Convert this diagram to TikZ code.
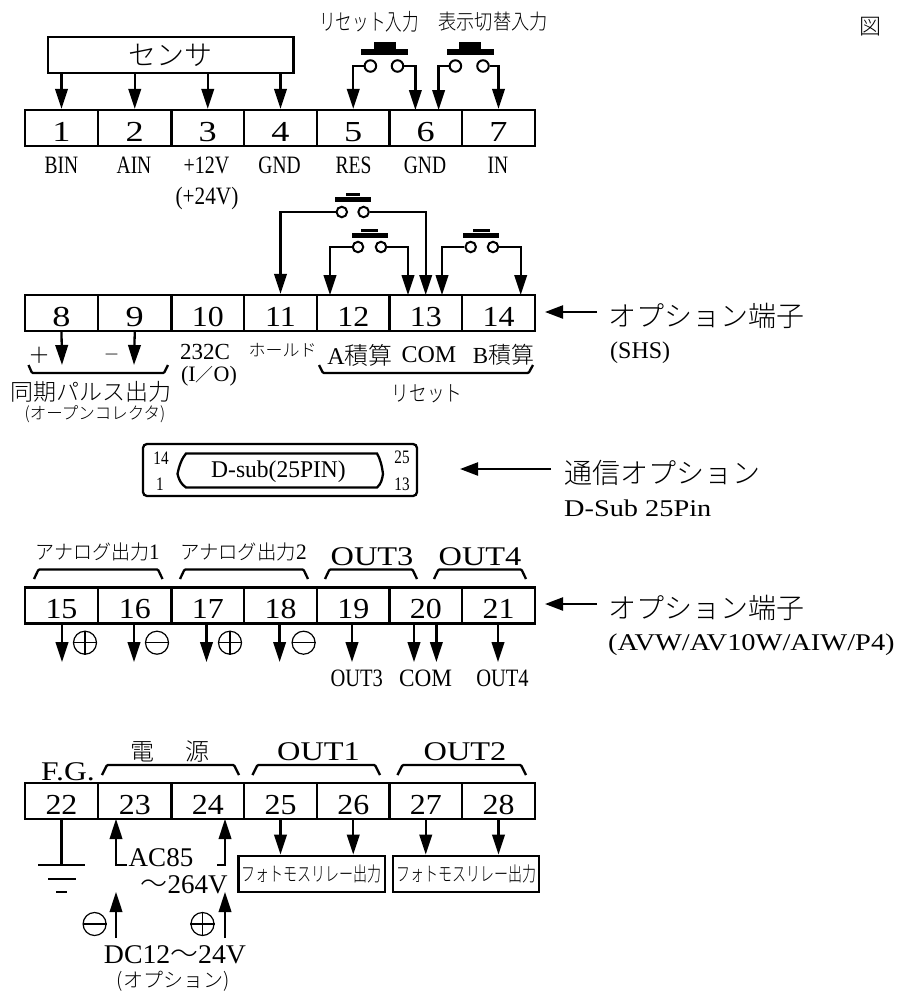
\documentclass[tikz,border=0pt]{standalone}
\usepackage{fontspec}
\usepackage{graphicx}
\usetikzlibrary{arrows.meta}
\setmainfont{Liberation Serif}
\newfontfamily\jpl{Noto Sans CJK JP Light}
\newcommand{\fs}[1]{\fontsize{#1}{#1}\selectfont}
\newcommand{\sx}[2]{\scalebox{#1}[1]{#2}}
\tikzset{
  x=1pt,y=-1pt,
  wire/.style={line width=2.3pt},
  arr/.style={line width=2.3pt,-{Triangle[length=20pt,width=12.5pt]}},
  arrs/.style={line width=2.3pt,-{Triangle[length=18pt,width=13pt]}},
  cell/.style={draw,line width=2.3pt,inner sep=0pt,font=\fs{29}},
  txt/.style={inner sep=0pt},
  bus/.style={line width=2.3pt,rounded corners=1pt},
  contact/.style={circle,draw,line width=2pt,fill=white,inner sep=0pt,minimum size=#1},
  oplus/.style={circle,draw,line width=1.2pt,inner sep=0pt,minimum size=23pt},
}
\begin{document}
\begin{tikzpicture}
\useasboundingbox (0,0) rectangle (905,994);
% terminal blocks
\def\xs{{25,98,171.5,244,317,389.5,462,535}}
\foreach \yc/\first in {128/1,313/8,605.5/15,801/22}{
  \foreach \i in {0,...,6}{
    \pgfmathsetmacro{\xa}{\xs[\i]}
    \pgfmathsetmacro{\xb}{\xs[\i+1]}
    \pgfmathtruncatemacro{\nn}{\first+\i}
    \node[cell,minimum width=\xb pt-\xa pt,minimum height=36pt,anchor=center] (t\nn) at ({(\xa+\xb)/2},\yc) {\raisebox{-13pt}[0pt][0pt]{\sx{\ifnum\nn<10 1.25\else 1.1\fi}{\nn}}};
  }
}
% sensor
\node[draw,line width=2.3pt,minimum width=245.6pt,minimum height=36pt,inner sep=0pt] (sensor) at (170.8,55) {\jpl\fs{28}\raisebox{-1pt}{センサ}};
\foreach \n in {1,2,3,4}{\draw[arr] (sensor.south -| t\n.north) -- (t\n.north);}
% switches
\newcommand{\pushbtn}[6]{%
  \node[fill,minimum width=2*#4 pt,minimum height=5.5pt,inner sep=0pt] (#1bar) at (#2,#3) {};
  \node[fill,minimum width=2*#5 pt,minimum height=#6 pt,inner sep=0pt,anchor=south] (#1btn) at (#1bar.north) {};
}
\pushbtn{a}{384.5}{52}{23.5}{11}{7}
\pushbtn{b}{470}{52}{23.5}{11}{7}
\pushbtn{c}{352.7}{199.5}{18}{7}{3.5}
\pushbtn{d}{369.6}{235.5}{18}{8.5}{3.5}
\pushbtn{e}{481}{235.5}{18}{8.5}{3.5}
\node[contact=11.5pt] (a1) at (370.4,66) {};
\node[contact=11.5pt] (a2) at (397.5,66) {};
\node[contact=11.5pt] (b1) at (455.4,66) {};
\node[contact=11.5pt] (b2) at (483,66) {};
\node[contact=10.5pt] (c1) at (341.8,212) {};
\node[contact=10.5pt] (c2) at (363.6,212) {};
\node[contact=10.5pt] (d1) at (358,247) {};
\node[contact=10.5pt] (d2) at (381,247) {};
\node[contact=10.5pt] (e1) at (470.7,247) {};
\node[contact=10.5pt] (e2) at (493,247) {};
\coordinate (p6a) at (415.4,110);
\coordinate (p6b) at (438.6,110);
\coordinate (p12) at (330,295);
\coordinate (p13a) at (408,295);
\coordinate (p13b) at (425.7,295);
\coordinate (p13c) at (442,295);
\coordinate (p14) at (520.7,295);
\draw[arr] (a1) -| (t5.north);
\draw[arr] (a2) -| (p6a);
\draw[arr] (b1) -| (p6b);
\draw[arr] (b2) -| (t7.north);
\draw[arr] (c1) -| (t11.north);
\draw[arr] (c2) -| (p13b);
\draw[arr] (d1) -| (p12);
\draw[arr] (d2) -| (p13a);
\draw[arr] (e1) -| (p13c);
\draw[arr] (e2) -| (p14);
% row 1 labels
\foreach \n/\t/\x/\s in {1/BIN/61.5/.78,2/AIN/134/.78,3/+12V/206.5/.8,4/GND/279.6/.78,5/RES/353.6/.78,6/GND/425/.78,7/IN/498/.78}{
  \node[txt] (l\n) at (\x,165) {\fs{25}\sx{\s}{\t}};
}
\node[txt] (l3b) at (207,198) {\fs{25}\sx{.85}{(+24V)}};
\node[txt] (hreset) at (369,22) {\jpl\fs{23}\sx{.72}{リセット入力}};
\node[txt] (hdisp) at (493,22) {\jpl\fs{21}\sx{.87}{表示切替入力}};
\node[txt] (fig) at (870,27) {\jpl\fs{22}図};
% row 2 below
\coordinate (o8) at (62,365);
\coordinate (o9) at (134,365);
\draw[arr] (t8.south) -- (o8);
\draw[arr] (t9.south) -- (o9);
\node[txt] (plus) at (39,355) {\jpl\fs{22}＋};
\node[txt] (minus) at (111.6,357) {\jpl\fs{16}－};
\draw[bus] (28.5,365) -- (32,373) -- (164,373) -- (168,365);
\draw[bus] (319,365) -- (323,373) -- (528.6,373) -- (533,365);
\node[txt] (sync) at (91,392) {\jpl\fs{23}同期パルス出力};
\node[txt] (oc) at (95,414) {\jpl\fs{17}\sx{.97}{(オープンコレクタ)}};
\node[txt] (r232a) at (205,352) {\fs{23}232C};
\node[txt] (r232b) at (209,376) {\fs{22}(I{\jpl\fs{18}／}O)};
\node[txt] (hold) at (282.5,350) {\jpl\fs{17}ホールド};
\node[txt] (aint) at (360,355) {\fs{24}A{\jpl\fs{24}積算}};
\node[txt] (com) at (429,355) {\fs{24}COM};
\node[txt] (bint) at (503.5,355) {\fs{23}B{\jpl\fs{23}積算}};
\node[txt] (reset) at (427,394) {\jpl\fs{22}\sx{.8}{リセット}};
% arrows on the right
\coordinate (a14) at (545,312);
\coordinate (a21) at (545,604);
\coordinate (asub) at (460,469);
\coordinate (b14) at (597,312);
\coordinate (b21) at (597,604);
\coordinate (bsub) at (551,469);
\draw[arrs] (b14) -- (a14);
\draw[arrs] (b21) -- (a21);
\draw[arrs] (bsub) -- (asub);
\node[txt,anchor=west] (opt1) at (608,316) {\jpl\fs{28}オプション端子};
\node[txt,anchor=west] (shs) at (610,353) {\fs{24}(SHS)};
\node[txt,anchor=west] (comm) at (564,473) {\jpl\fs{28}通信オプション};
\node[txt,anchor=west] (dsub25) at (564,508) {\fs{24}\sx{1.18}{D-Sub 25Pin}};
\node[txt,anchor=west] (opt2) at (608,608) {\jpl\fs{28}オプション端子};
\node[txt,anchor=west] (avw) at (608,645) {\fs{24}\sx{1.185}{(AVW/AV10W/AIW/P4)}};
% D-sub
\draw[line width=2.3pt,rounded corners=4pt] (143,444) rectangle (417,496);
\node[txt] (inner) at (278.5,472) {\fs{24}\sx{.98}{D-sub(25PIN)}};
\draw[line width=2.3pt] (186,453.5) -- (377,453.5) .. controls (380,458) and (382,466) .. (383,474) .. controls (382,480) and (381,484) .. (377,487.5) -- (186,487.5) .. controls (181,484) and (179,480) .. (177.5,474) .. controls (179,466) and (182,458) .. (186,453.5) -- cycle;
\node[txt] (p14l) at (161,458) {\fs{19}\sx{.8}{14}};
\node[txt] (p1l) at (160,484) {\fs{19}\sx{.8}{1}};
\node[txt] (p25l) at (402,457) {\fs{19}\sx{.8}{25}};
\node[txt] (p13l) at (402,484) {\fs{19}\sx{.8}{13}};
% row 3 top
\newcommand{\brk}[2]{\draw[bus] (#1,579) -- (#1+4.5,569.5) -- (#2-4.5,569.5) -- (#2,579);}
\brk{34}{162.5}\brk{180}{308}\brk{325}{417}\brk{434}{526}
\node[txt] (ao1) at (97.5,552) {\jpl\fs{20}\sx{.95}{アナログ出力{\rmfamily\fs{22}1}}};
\node[txt] (ao2) at (243.5,552) {\jpl\fs{20}\sx{.97}{アナログ出力{\rmfamily\fs{22}2}}};
\node[txt] (o3) at (372,557) {\fs{27}\sx{1.2}{OUT3}};
\node[txt] (o4) at (480,557) {\fs{27}\sx{1.2}{OUT4}};
% row 3 below
\foreach \n/\x in {15/62,16/134,17/206.5,18/279.6}{
  \coordinate (e\n) at (\x,662);
  \draw[arr] (\x,624) -- (e\n);
}
\newcommand{\plusc}[3]{\node[oplus] (#1) at (#2,#3) {};\draw[line width=1.2pt] (#1.west) -- (#1.east) (#1.north) -- (#1.south);}
\newcommand{\minusc}[3]{\node[oplus] (#1) at (#2,#3) {};\draw[line width=1.2pt] (#1.west) -- (#1.east);}
\plusc{pa}{85}{642.7}\minusc{ma}{157}{642.7}\plusc{pb}{230}{642.7}\minusc{mb}{303.6}{642.7}
\coordinate (s19) at (352,662);
\coordinate (s20a) at (414,662);
\coordinate (s20b) at (436.4,662);
\coordinate (s21) at (498,662);
\draw[arr] (s19 |- t19.south) -- (s19);
\draw[arr] (s20a |- t20.south) -- (s20a);
\draw[arr] (s20b |- t20.south) -- (s20b);
\draw[arr] (s21 |- t21.south) -- (s21);
\node[txt] (lo3) at (356.7,678) {\fs{25}\sx{.82}{OUT3}};
\node[txt] (lcom) at (425.5,678) {\fs{25}\sx{.93}{COM}};
\node[txt] (lo4) at (502.5,678) {\fs{25}\sx{.82}{OUT4}};
% row 4
\node[txt] (fg) at (68,771.7) {\fs{27}\sx{1.17}{F.G.}};
\node[txt] (pow) at (170,752) {\jpl\fs{24}電\hspace{31pt}源};
\node[txt] (o1) at (318.5,752) {\fs{27}\sx{1.2}{OUT1}};
\node[txt] (o2) at (465,752) {\fs{27}\sx{1.2}{OUT2}};
\newcommand{\brkb}[2]{\draw[bus] (#1,775) -- (#1+5,765) -- (#2-5,765) -- (#2,775);}
\brkb{102}{239}\brkb{252.5}{380}\brkb{397.5}{526}
% ground
\coordinate (g1) at (61.5,865);
\draw[wire] (t22.south) -- (g1);
\draw[wire] (38,865) -- (85,865) (48,879) -- (75.7,879) (56.4,892) -- (67,892);
% power
\coordinate (ac23) at (116,819);
\coordinate (ac24) at (225,819);
\coordinate (w23) at (127,865);
\coordinate (w24) at (217,865);
\draw[arr] (w23) -| (ac23);
\draw[arr] (w24) -| (ac24);
\node[txt] (ac) at (161,858) {\fs{27}AC85};
\node[txt] (v264) at (184,885) {\fs{27}{\jpl ～}264V};
\coordinate (dc23) at (116,892);
\coordinate (dc24) at (225,892);
\coordinate (d23) at (116,938);
\coordinate (d24) at (225,938);
\draw[arr] (d23) -- (dc23);
\draw[arr] (d24) -- (dc24);
\minusc{mc}{94.6}{924}\plusc{pc}{202.5}{924}
\node[txt] (dc) at (175,955) {\fs{27}\sx{1.03}{DC12{\jpl ～}24V}};
\node[txt] (opt3) at (173,981) {\jpl\fs{20}(オプション)};
% relays
\node[draw,line width=2.3pt,minimum width=146.4pt,minimum height=36.6pt,inner sep=0pt] (r1) at (311.8,874) {\jpl\fs{20}\sx{.7}{フォトモスリレー出力}};
\node[draw,line width=2.3pt,minimum width=146pt,minimum height=36.6pt,inner sep=0pt] (r2) at (466,874) {\jpl\fs{20}\sx{.7}{フォトモスリレー出力}};
\draw[arr] (t25.south) -- (t25.south |- r1.north);
\draw[arr] (t26.south) -- (t26.south |- r1.north);
\draw[arr] (t27.south) -- (t27.south |- r2.north);
\draw[arr] (t28.south) -- (t28.south |- r2.north);
\end{tikzpicture}
\end{document}
